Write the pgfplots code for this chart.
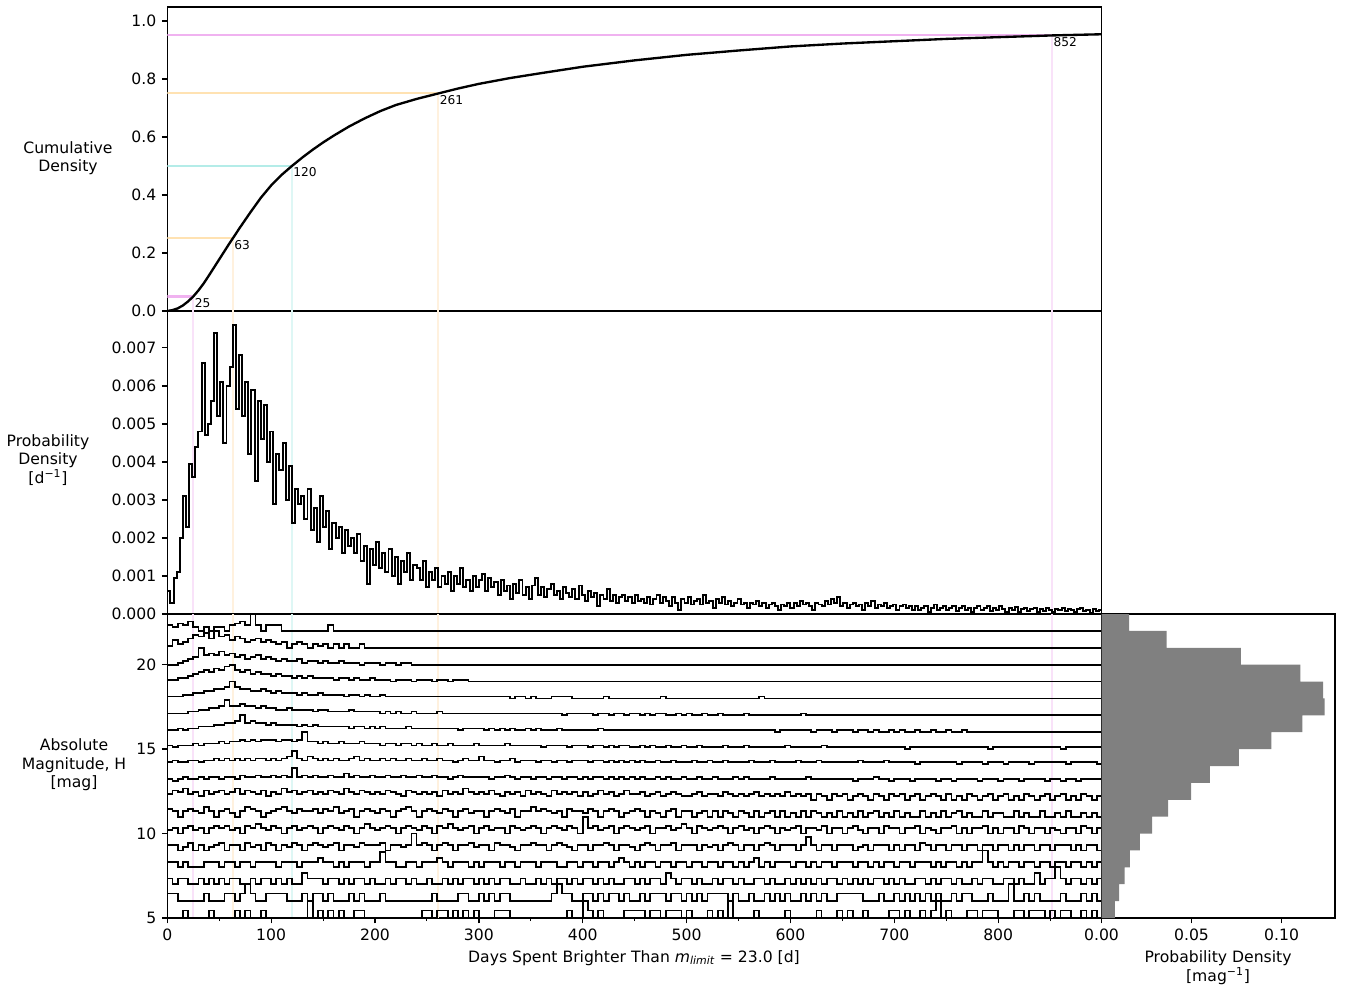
\documentclass[border=0pt]{standalone}
\usepackage{fontspec}
\setmainfont{DejaVu Sans}
\usepackage{pgfplots}
\usepackage{pgfplotstable}
\pgfplotsset{compat=1.18}

\definecolor{hviolet}{RGB}{240,178,240}
\definecolor{vviolet}{RGB}{249,226,249}
\definecolor{horange}{RGB}{255,226,178}
\definecolor{vorange}{RGB}{255,241,222}
\definecolor{hturq}{RGB}{180,236,232}
\definecolor{vturq}{RGB}{222,247,245}
\definecolor{histgray}{RGB}{128,128,128}

% cumulative density
\pgfplotstableread{
day cdf
0 0
5 0.003
10 0.009
15 0.019
20 0.033
25 0.05
30 0.071
35 0.095
40 0.122
45 0.15
50 0.178
55 0.206
60 0.234
63 0.25
70 0.288
80 0.34
90 0.39
100 0.433
110 0.469
120 0.5
130 0.529
140 0.556
150 0.581
160 0.604
175 0.636
190 0.664
205 0.689
220 0.71
240 0.731
261 0.75
280 0.767
300 0.783
330 0.803
360 0.82
400 0.842
450 0.864
500 0.883
550 0.898
600 0.912
650 0.922
700 0.930
750 0.938
800 0.944
852 0.95
899.5 0.954
}\cdftab

% probability density, 3-day bins, units of 1e-5 per day
\pgfplotstableread[header=false]{
pdf 60 28 95 110 200 310 230 395 360 440 480 660 470 500 560 740 520 610 450 600 650 760 540 680 520 610 420 590 350 560 460 550 400 480 290 420 380 450 300 390 240 330 290 310 250 330 220 280 190 310 230 270 170 240 200 230 160 220 180 200 160 210 140 180 80 170 130 190 120 160 110 170 100 150 80 140 110 160 90 130 120 90 140 70 110 90 120 70 100 80 110 60 100 80 120 70 90 60 100 70 90 105 60 95 70 85 50 90 60 75 40 80 55 90 50 70 40 75 95 50 70 45 65 80 50 60 40 70 55 45 65 40 75 50 35 60 45 55 20 50 40 65 35 50 30 45 50 35 45 30 50 35 40 30 45 25 40 50 30 45 35 20 45 30 10 40 30 45 25 35 40 25 50 30 35 15 40 30 45 25 35 20 30 40 25 30 15 30 25 35 20 30 15 25 30 20 10 25 20 30 15 30 20 35 25 30 20 10 30 25 20 35 25 40 30 45 20 30 15 25 30 20 25 10 30 20 35 15 25 20 30 15 20 25 10 20 25 15 20 10 20 10 15 20 5 15 25 10 15 20 10 15 20 8 15 20 10 15 5 15 20 10 15 20 8 15 10 20 12 5 15 10 18 5 12 15 8 12 15 5 12 8 15 10 5 14 10 15 8 12 10 5 12 15 8 10 4 12 8 10 10
}\pdfraw
\pgfplotstabletranspose[colnames from=0]{\pdftab}{\pdfraw}

% per-H rows, 5-day bins, height in ninths of a row
\pgfplotstableread[header=false]{
h5 0 0 0 4 0 0 0 0 4 0 0 0 0 4 0 4 0 0 4 0 0 0 0 0 0 0 0 9 0 4 0 4 0 4 0 0 4 4 0 0 0 0 0 0 0 0 0 0 0 4 4 0 4 4 0 4 0 4 0 4 0 0 0 4 4 4 0 0 0 0 0 0 0 0 0 0 0 4 0 0 9 4 0 4 0 0 0 0 4 4 4 4 0 4 4 0 4 4 4 0 4 0 0 0 4 0 4 0 9 0 0 0 0 4 0 0 0 0 0 4 0 0 0 0 0 4 0 0 0 4 0 4 0 0 4 0 0 0 0 4 4 0 4 0 0 4 0 4 9 0 4 0 0 0 4 4 0 4 4 4 0 0 0 4 4 0 4 4 4 0 4 0 4 4 0 0 4 0 4 0 0
h6 4 4 0 0 0 0 0 4 0 0 0 4 4 0 4 9 4 0 0 4 4 4 4 0 0 0 4 0 4 4 0 4 0 0 0 4 0 4 0 0 0 4 0 0 0 0 0 0 0 0 0 4 0 0 0 0 4 4 0 0 4 0 4 0 4 4 0 0 0 0 0 0 0 0 4 9 4 4 0 0 4 4 0 4 0 4 4 0 4 0 0 4 0 4 4 4 0 4 4 0 4 0 4 0 4 4 4 4 0 4 0 0 4 0 0 4 0 4 0 4 0 0 4 0 4 0 4 0 0 4 4 4 4 4 0 0 0 4 0 0 4 0 4 0 4 0 4 0 4 0 0 4 0 4 4 0 0 0 4 0 0 0 9 0 0 4 0 4 0 0 0 0 4 0 0 0 4 0 4 0 0
h7 3 0 3 3 0 0 3 0 3 0 3 0 3 3 0 0 3 0 3 3 0 3 0 3 0 0 6 3 3 3 0 3 3 0 3 0 3 3 0 3 0 0 3 0 3 3 0 3 0 0 3 0 0 3 0 3 0 3 3 0 3 0 3 0 3 3 0 0 3 0 0 3 0 3 0 3 3 0 3 0 3 3 0 3 0 3 0 0 3 3 0 3 0 3 3 0 6 3 0 3 3 0 3 0 0 3 0 3 3 0 3 0 0 3 3 0 3 0 0 3 0 3 0 3 0 3 0 3 3 0 3 0 3 0 3 0 3 3 0 3 0 3 0 0 3 3 0 3 0 3 3 0 3 0 0 3 0 3 3 0 0 3 3 0 3 0 0 6 0 3 3 9 3 0 3 3 0 3 0 3 0
h8 3 3 0 3 0 0 0 3 3 3 0 3 3 0 3 3 0 3 3 3 3 0 3 3 3 0 3 3 3 5 3 3 0 3 0 3 3 3 0 3 3 8 3 3 0 0 3 3 0 3 3 3 5 3 0 3 3 3 0 3 0 3 3 3 0 3 3 0 3 3 3 0 3 3 3 0 0 3 3 0 3 3 0 3 3 0 3 5 3 0 3 0 3 3 0 3 3 0 3 3 0 3 3 0 3 3 0 3 3 0 3 0 3 5 0 3 0 3 3 3 0 3 3 0 3 0 3 3 0 3 3 3 0 3 3 0 3 0 3 3 0 3 3 0 3 3 3 0 3 0 3 3 0 3 0 3 3 9 3 0 3 0 3 3 0 3 3 0 3 3 0 3 3 0 3 3 0 3 0 3 0
h9 3 3 0 2 4 0 3 0 2 3 4 0 3 3 0 4 2 3 0 4 3 0 3 2 4 3 0 3 4 3 2 3 4 0 3 3 2 4 3 3 3 4 0 3 3 2 3 9 3 4 3 0 3 4 3 0 3 3 4 2 3 3 0 4 3 3 2 0 3 3 4 3 3 0 3 4 3 2 0 3 3 0 3 3 4 3 0 3 3 2 0 3 4 3 0 3 3 4 0 3 3 3 0 3 2 3 0 3 4 3 0 3 3 0 3 4 3 0 3 3 3 0 3 7 3 0 3 3 0 3 3 3 0 2 3 0 3 3 3 0 3 0 3 3 0 4 3 0 3 3 0 3 3 0 3 3 0 3 3 0 3 3 0 3 0 3 3 0 3 3 0 3 3 3 0 3 0 3 3 0 0
h10 2 3 0 3 4 2 3 0 3 4 3 4 2 3 0 4 3 5 3 2 4 3 0 3 4 2 3 4 3 0 3 4 3 2 4 3 0 3 5 3 2 3 4 3 0 3 4 3 2 4 3 0 4 3 5 3 2 3 4 0 3 4 2 3 3 0 4 3 2 3 4 3 0 3 4 3 2 4 3 0 9 3 4 2 3 4 0 3 4 3 2 3 4 0 3 3 4 2 3 5 3 0 4 3 2 3 4 3 0 3 4 2 3 0 3 4 3 0 3 2 3 4 0 3 3 2 4 0 3 3 0 3 4 2 0 3 3 0 4 3 3 0 3 3 4 0 3 2 0 3 3 4 0 3 0 3 3 4 0 3 0 3 3 0 4 3 0 3 3 0 3 2 0 3 3 0 4 3 0 3 0
h11 4 3 0 3 4 3 2 5 3 0 3 4 2 0 3 5 4 3 0 2 3 4 5 3 2 4 3 3 4 2 4 3 5 2 3 4 0 3 4 3 2 4 3 0 3 4 5 3 0 3 4 3 2 4 3 0 3 4 2 3 3 0 3 4 3 2 4 0 3 3 5 3 4 3 2 3 0 4 3 3 2 4 3 0 3 4 3 0 2 3 4 3 0 3 2 0 3 4 0 3 3 0 2 3 0 3 0 3 2 0 3 2 0 3 0 2 3 0 3 0 2 0 3 0 3 2 0 2 0 3 0 2 0 3 0 2 3 0 2 0 3 0 2 0 0 3 0 2 0 3 0 2 3 0 2 0 0 3 0 2 2 0 0 3 0 2 0 0 3 0 0 2 0 3 0 0 2 0 2 0 0
h12 3 5 4 6 3 4 2 5 3 4 5 3 4 6 3 5 4 3 5 2 4 3 6 4 5 3 4 5 3 4 3 5 4 3 6 4 3 5 4 3 4 3 5 4 3 2 5 4 3 4 3 4 2 5 3 4 3 6 4 3 4 3 5 3 2 4 3 4 2 5 3 4 3 2 5 3 4 3 4 2 4 2 3 5 3 4 2 3 5 3 3 4 2 3 4 2 3 4 3 2 2 3 4 2 3 3 2 4 3 2 3 2 3 4 2 3 2 3 2 4 2 3 2 3 0 3 2 0 3 2 3 0 2 3 2 0 3 2 0 3 2 3 0 2 3 0 2 3 2 0 3 0 2 0 3 2 0 2 3 0 2 3 0 2 0 3 2 0 2 3 0 2 3 0 2 0 3 2 0 2 0
h13 2 1 2 3 2 2 3 2 3 3 2 3 3 2 4 3 3 4 3 3 4 3 4 3 8 3 4 3 4 3 3 4 3 3 5 3 4 3 3 4 3 3 4 3 3 4 3 3 4 3 3 4 3 3 2 3 4 3 3 3 3 3 2 3 3 4 3 2 3 3 2 3 3 2 3 3 2 3 3 2 3 2 3 3 2 3 2 3 2 3 2 3 2 2 3 2 3 2 2 3 2 2 3 2 2 3 2 2 2 3 2 3 2 2 2 2 3 2 2 2 2 2 2 3 2 2 2 2 2 2 2 2 1 2 2 2 3 2 2 1 2 2 2 1 2 2 2 2 1 2 2 1 2 2 2 2 1 2 2 2 1 2 2 2 1 2 2 2 2 1 2 2 1 2 2 1 2 2 2 2 2
h14 2 3 2 2 3 3 2 3 3 4 3 4 3 4 3 4 3 4 4 3 4 3 4 5 8 4 3 5 4 3 4 3 4 3 3 4 5 3 4 3 3 4 3 4 3 3 4 3 3 4 3 3 4 3 3 2 3 4 3 3 5 3 3 2 3 3 4 2 3 3 3 2 3 3 2 3 3 2 3 3 3 2 3 3 2 3 2 3 2 3 2 3 2 2 3 2 2 3 2 2 2 3 2 2 3 2 2 3 2 2 2 2 3 2 2 2 3 2 2 2 2 3 2 2 2 3 2 2 2 2 2 2 2 3 2 2 2 2 3 2 2 2 2 2 1 2 2 2 2 2 2 2 1 2 2 2 2 1 2 2 2 1 2 2 2 2 1 2 2 2 2 2 2 1 2 2 2 2 2 1 2
h15 2 1 2 2 2 3 2 3 3 3 4 3 4 4 5 4 5 4 5 5 5 4 5 5 4 5 9 4 4 3 4 3 3 4 3 3 3 4 3 3 3 2 3 3 2 3 3 2 3 2 2 3 2 2 3 2 2 2 2 3 2 2 2 2 2 3 2 2 2 2 2 2 1 2 2 2 2 1 2 2 2 1 2 2 1 2 1 2 2 1 1 2 1 2 1 1 2 1 1 2 1 1 2 1 1 1 1 2 1 1 1 2 1 1 1 1 1 1 1 2 1 1 1 1 1 1 2 1 1 1 1 1 1 1 1 1 1 1 1 1 1 1 0 1 1 1 1 1 1 1 1 1 1 1 1 1 1 1 0 1 1 1 1 1 1 1 1 1 1 1 1 1 0 1 1 1 1 1 1 1 1
h16 1 1 2 1 2 2 3 3 3 4 4 5 5 6 9 5 6 5 5 4 5 4 4 4 4 3 4 3 4 3 3 3 3 3 3 2 3 3 2 3 2 3 2 2 2 2 3 2 2 2 2 2 2 2 2 2 1 2 2 2 2 1 2 1 2 1 2 1 1 2 1 2 1 1 1 2 1 1 1 1 1 1 1 2 1 1 1 1 1 1 1 1 1 1 1 1 1 1 1 1 1 1 1 1 1 1 1 1 1 1 1 1 1 1 1 1 1 0 1 1 1 1 1 1 0 1 1 1 0 1 1 1 0 1 1 0 1 0 0 1 0 1 0 0 1 0 0 1 0 0 1 0 0 1 0 0 0 0 0 0 0 0 0 0 0 0 0 0 0 0 0 0 0 0 0 0 0 0 0 0 0
h17 1 1 1 1 2 2 3 3 4 4 5 8 5 5 6 5 5 4 5 4 4 3 3 4 3 3 3 3 2 3 3 2 2 2 2 3 2 2 2 2 2 1 2 1 2 1 1 2 1 1 1 1 2 1 1 1 1 1 1 1 1 1 1 1 1 1 1 1 1 1 1 1 1 1 1 1 0 1 1 1 1 1 0 1 1 0 1 1 0 1 1 0 1 0 1 1 0 0 1 0 1 0 0 1 0 0 1 0 0 0 0 1 0 0 0 0 0 0 0 0 0 0 1 0 0 0 0 0 0 0 0 0 0 0 0 0 0 0 0 0 0 0 0 0 0 0 0 0 0 0 0 0 0 0 0 0 0 0 0 0 0 0 0 0 0 0 0 0 0 0 0 0 0 0 0 0 0 0 0 0 0
h18 1 1 1 2 2 3 3 4 4 5 5 6 9 6 5 5 4 4 5 4 3 4 3 3 3 2 3 2 2 3 2 2 2 2 1 2 2 1 2 1 1 2 1 1 1 1 1 1 1 1 1 1 1 1 1 1 1 1 1 1 1 1 1 1 1 1 0 1 1 0 1 0 0 0 1 1 1 1 0 0 0 0 0 0 1 0 0 0 0 0 0 0 0 0 0 1 0 0 0 0 0 0 0 0 0 0 0 0 0 0 0 0 0 0 1 0 0 0 0 0 0 0 0 0 0 0 0 0 0 0 0 0 0 0 0 0 0 0 0 0 0 0 0 0 0 0 0 0 0 0 0 0 0 0 0 0 0 0 0 0 0 0 0 0 0 0 0 0 0 0 0 0 0 0 0 0 0 0 0 0 0
h19 1 1 2 2 3 4 5 6 5 7 6 8 9 6 5 6 4 5 4 4 3 4 3 3 2 3 2 3 2 2 2 2 1 2 2 1 2 1 1 2 1 1 1 0 1 1 1 0 1 1 1 0 1 1 0 1 1 1 0 0 0 0 0 0 0 0 0 0 0 0 0 0 0 0 0 0 0 0 0 0 0 0 0 0 0 0 0 0 0 0 0 0 0 0 0 0 0 0 0 0 0 0 0 0 0 0 0 0 0 0 0 0 0 0 0 0 0 0 0 0 0 0 0 0 0 0 0 0 0 0 0 0 0 0 0 0 0 0 0 0 0 0 0 0 0 0 0 0 0 0 0 0 0 0 0 0 0 0 0 0 0 0 0 0 0 0 0 0 0 0 0 0 0 0 0 0 0 0 0 0 0
h20 0 0 1 2 3 4 9 5 6 5 7 5 6 4 5 3 4 5 3 4 3 2 3 2 2 3 1 2 2 1 2 1 1 2 1 1 1 0 1 1 1 0 1 1 0 1 1 0 0 0 0 0 0 0 0 0 0 0 0 0 0 0 0 0 0 0 0 0 0 0 0 0 0 0 0 0 0 0 0 0 0 0 0 0 0 0 0 0 0 0 0 0 0 0 0 0 0 0 0 0 0 0 0 0 0 0 0 0 0 0 0 0 0 0 0 0 0 0 0 0 0 0 0 0 0 0 0 0 0 0 0 0 0 0 0 0 0 0 0 0 0 0 0 0 0 0 0 0 0 0 0 0 0 0 0 0 0 0 0 0 0 0 0 0 0 0 0 0 0 0 0 0 0 0 0 0 0 0 0 0 0
h21 1 4 2 3 5 7 6 8 5 9 6 7 4 6 5 3 4 5 3 4 3 2 3 0 2 3 2 0 2 1 2 0 2 0 2 0 0 2 0 0 0 0 0 0 0 0 0 0 0 0 0 0 0 0 0 0 0 0 0 0 0 0 0 0 0 0 0 0 0 0 0 0 0 0 0 0 0 0 0 0 0 0 0 0 0 0 0 0 0 0 0 0 0 0 0 0 0 0 0 0 0 0 0 0 0 0 0 0 0 0 0 0 0 0 0 0 0 0 0 0 0 0 0 0 0 0 0 0 0 0 0 0 0 0 0 0 0 0 0 0 0 0 0 0 0 0 0 0 0 0 0 0 0 0 0 0 0 0 0 0 0 0 0 0 0 0 0 0 0 0 0 0 0 0 0 0 0 0 0 0 0
h22 3 2 4 3 5 2 0 2 0 2 2 0 3 4 5 3 9 3 0 3 3 3 0 0 0 0 0 0 0 0 0 3 0 0 0 0 0 0 0 0 0 0 0 0 0 0 0 0 0 0 0 0 0 0 0 0 0 0 0 0 0 0 0 0 0 0 0 0 0 0 0 0 0 0 0 0 0 0 0 0 0 0 0 0 0 0 0 0 0 0 0 0 0 0 0 0 0 0 0 0 0 0 0 0 0 0 0 0 0 0 0 0 0 0 0 0 0 0 0 0 0 0 0 0 0 0 0 0 0 0 0 0 0 0 0 0 0 0 0 0 0 0 0 0 0 0 0 0 0 0 0 0 0 0 0 0 0 0 0 0 0 0 0 0 0 0 0 0 0 0 0 0 0 0 0 0 0 0 0 0 0
}\ridgeraw
\pgfplotstabletranspose[colnames from=0]{\ridgetab}{\ridgeraw}

% distribution of H (1-mag bins)
\pgfplotstableread{
H dens
5 0.0074
6 0.0098
7 0.0128
8 0.0157
9 0.0213
10 0.0281
11 0.0370
12 0.0498
13 0.0602
14 0.0763
15 0.0944
16 0.1115
17 0.1239
18 0.1231
19 0.1105
20 0.0774
21 0.0361
22 0.0154
23 0
}\hdist

\pgfplotsset{
  panel/.style={
    scale only axis, enlargelimits=false,
    axis line style={black, line width=0.8pt},
    tick pos=left, tick align=outside,
    major tick length=3.5pt, minor tick length=2pt,
    major tick style={line width=0.8pt, black},
    minor tick style={line width=0.6pt, black},
    tick label style={font=\fontsize{10}{12}\selectfont},
    /pgf/number format/assume math mode=true,
  },
  leftpanel/.style={panel, width=597.89pt, xmin=0, xmax=899.5},
}
\tikzset{qlabel/.style={anchor=north west, inner sep=0.8pt, font=\fontsize{7.8}{9}\selectfont}}

\begin{document}
\begin{tikzpicture}
\useasboundingbox (0,0) rectangle (860.8pt,632.32pt);

% cumulative density
\begin{axis}[leftpanel, at={(107.07pt,433.28pt)}, anchor=south west, height=194.56pt,
  ymin=0, ymax=1.048, ytick={0,0.2,0.4,0.6,0.8,1.0}, xtick=\empty,
  yticklabel style={/pgf/number format/.cd, fixed, fixed zerofill, precision=1}]
\addplot[vviolet, line width=1.3pt] coordinates {(25,0)(25,0.05)};
\addplot[vorange, line width=1.3pt] coordinates {(63,0)(63,0.25)};
\addplot[vturq, line width=1.3pt] coordinates {(120,0)(120,0.5)};
\addplot[vorange, line width=1.3pt] coordinates {(261,0)(261,0.75)};
\addplot[vviolet, line width=1.3pt] coordinates {(852,0)(852,0.95)};
\addplot[hviolet, line width=1.3pt] coordinates {(0,0.05)(25,0.05)};
\addplot[horange, line width=1.3pt] coordinates {(0,0.25)(63,0.25)};
\addplot[hturq, line width=1.3pt] coordinates {(0,0.5)(120,0.5)};
\addplot[horange, line width=1.3pt] coordinates {(0,0.75)(261,0.75)};
\addplot[hviolet, line width=1.3pt] coordinates {(0,0.95)(852,0.95)};
\addplot[black, line width=1.5pt] table[x=day, y=cdf]{\cdftab};
\node[qlabel] at (axis cs:25,0.05) {25};
\node[qlabel] at (axis cs:63,0.25) {63};
\node[qlabel] at (axis cs:120,0.5) {120};
\node[qlabel] at (axis cs:261,0.75) {261};
\node[qlabel] at (axis cs:852,0.95) {852};
\end{axis}

% probability density
\begin{axis}[leftpanel, at={(107.07pt,239.36pt)}, anchor=south west, height=193.92pt,
  ymin=0, ymax=0.00797, scaled y ticks=false, xtick=\empty,
  ytick={0,0.001,0.002,0.003,0.004,0.005,0.006,0.007},
  yticklabel style={/pgf/number format/.cd, fixed, fixed zerofill, precision=3}]
\addplot[vviolet, line width=1.3pt] coordinates {(25,0)(25,0.008)};
\addplot[vorange, line width=1.3pt] coordinates {(63,0)(63,0.008)};
\addplot[vturq, line width=1.3pt] coordinates {(120,0)(120,0.008)};
\addplot[vorange, line width=1.3pt] coordinates {(261,0)(261,0.008)};
\addplot[vviolet, line width=1.3pt] coordinates {(852,0)(852,0.008)};
\addplot[const plot, black, line width=1.25pt]
  table[x expr=\coordindex*3, y expr=\thisrow{pdf}/100000]{\pdftab};
\end{axis}

% days per absolute magnitude bin
\begin{axis}[leftpanel, at={(107.07pt,44.8pt)}, anchor=south west, height=194.56pt,
  ymin=5, ymax=23, ytick={5,10,15,20},
  xtick={0,100,200,300,400,500,600,700,800},
  minor xtick={50,150,250,350,450,550,650,750,850}]
\addplot[vviolet, line width=1.3pt] coordinates {(25,5)(25,23)};
\addplot[vorange, line width=1.3pt] coordinates {(63,5)(63,23)};
\addplot[vturq, line width=1.3pt] coordinates {(120,5)(120,23)};
\addplot[vorange, line width=1.3pt] coordinates {(261,5)(261,23)};
\addplot[vviolet, line width=1.3pt] coordinates {(852,5)(852,23)};
\pgfplotsinvokeforeach{5,...,22}{
  \addplot[const plot, black, line width=1.1pt]
    table[x expr=\coordindex*5, y expr=\thisrow{h#1}/9+#1]{\ridgetab};
}
\end{axis}

% distribution of H
\begin{axis}[panel, at={(704.96pt,44.8pt)}, anchor=south west,
  width=149.44pt, height=194.56pt,
  xmin=0, xmax=0.1297, ymin=5, ymax=23, ytick=\empty,
  xtick={0,0.05,0.1}, scaled x ticks=false,
  xticklabel style={/pgf/number format/.cd, fixed, fixed zerofill, precision=2}]
\addplot[xbar interval, fill=histgray, draw=none] table[x=dens, y=H]{\hdist};
\end{axis}

\begin{scope}[every node/.style={font=\fontsize{10}{11.8}\selectfont, align=center}]
\node at (43.52pt,531.2pt) {Cumulative\\Density};
\node at (30.72pt,337.9pt) {Probability\\Density\\{[d\textsuperscript{−1}]}};
\node at (47.36pt,142.7pt) {Absolute\\Magnitude, H\\{[mag]}};
\node[anchor=base] at (405.76pt,16.64pt)
  {Days Spent Brighter Than {\itshape m}\textsubscript{\itshape limit} = 23.0 [d]};
\node[anchor=base] at (779.52pt,16.64pt) {Probability Density};
\node[anchor=base] at (779.52pt,4.48pt) {[mag\textsuperscript{−1}]};
\end{scope}
\end{tikzpicture}
\end{document}
